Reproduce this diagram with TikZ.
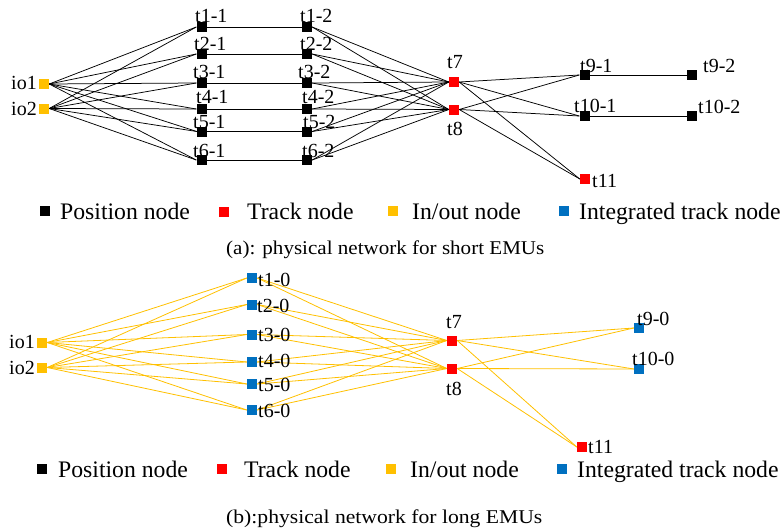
\documentclass[tikz,border=0pt]{standalone}
\usepackage{fontspec}
\setmainfont{Liberation Serif}
\usetikzlibrary{backgrounds}
\definecolor{iocol}{HTML}{FFC000}
\definecolor{intcol}{HTML}{0070C0}
\definecolor{trkcol}{HTML}{FF0000}
\tikzset{
  sq/.style={rectangle, inner sep=0pt, minimum size=10pt},
  posn/.style={sq, fill=black},
  trkn/.style={sq, fill=trkcol},
  ion/.style={sq, fill=iocol},
  intn/.style={sq, fill=intcol},
  lab/.style={inner sep=0pt, font=\fontsize{20}{24}\selectfont},
  legtxt/.style={inner sep=0pt, font=\fontsize{23.7}{28}\selectfont, anchor=base west},
  captxt/.style={inner sep=0pt, font=\fontsize{19.5}{23}\selectfont, anchor=base west},
  edgea/.style={black, line width=0.75pt},
  edgeb/.style={iocol, line width=0.8pt},
}
\begin{document}
\begin{tikzpicture}[x=1pt, y=-1pt]
\useasboundingbox (0,0) rectangle (782,530);

% ---------------- (a) short EMUs ----------------
\node[ion] (io1a) at (44,84) {};
\node[ion] (io2a) at (44,108.5) {};
\node[posn] (s11) at (201.5,27) {};
\node[posn] (s21) at (201.5,54) {};
\node[posn] (s31) at (201.5,83) {};
\node[posn] (s41) at (201.5,109) {};
\node[posn] (s51) at (202,131.5) {};
\node[posn] (s61) at (201.5,160) {};
\node[posn] (s12) at (307,27) {};
\node[posn] (s22) at (307,54) {};
\node[posn] (s32) at (307,83) {};
\node[posn] (s42) at (307,109) {};
\node[posn] (s52) at (307,131.5) {};
\node[posn] (s62) at (307,160) {};
\node[trkn] (t7a) at (454,82) {};
\node[trkn] (t8a) at (454,109.5) {};
\node[posn] (t91) at (584.5,75) {};
\node[posn] (t101) at (584.5,116) {};
\node[posn] (t92) at (692,75) {};
\node[posn] (t102) at (692,116) {};
\node[trkn] (t11a) at (585,179) {};

\node[lab, anchor=base east] (lio1a) at (37,89.5) {io1};
\node[lab, anchor=base east] (lio2a) at (37,115) {io2};
\node[lab, anchor=base west] (ls11) at (195,23) {t1-1};
\node[lab, anchor=base west] (ls21) at (194,50) {t2-1};
\node[lab, anchor=base west] (ls31) at (193,78) {t3-1};
\node[lab, anchor=base west] (ls41) at (196,103) {t4-1};
\node[lab, anchor=base west] (ls51) at (193,128) {t5-1};
\node[lab, anchor=base west] (ls61) at (193,157) {t6-1};
\node[lab, anchor=base west] (ls12) at (300,23) {t1-2};
\node[lab, anchor=base west] (ls22) at (300,50) {t2-2};
\node[lab, anchor=base west] (ls32) at (298,78) {t3-2};
\node[lab, anchor=base west] (ls42) at (302,103) {t4-2};
\node[lab, anchor=base west] (ls52) at (303,128) {t5-2};
\node[lab, anchor=base west] (ls62) at (302,157) {t6-2};
\node[lab, anchor=base] (lt7a) at (455,68) {t7};
\node[lab, anchor=base] (lt8a) at (455,135) {t8};
\node[lab, anchor=base west] (lt91) at (580,72) {t9-1};
\node[lab, anchor=base west] (lt101) at (574,112) {t10-1};
\node[lab, anchor=base west] (lt92) at (703,72) {t9-2};
\node[lab, anchor=base west] (lt102) at (698,113) {t10-2};
\node[lab, anchor=base west] (lt11a) at (592,187) {t11};

\begin{scope}[on background layer]
\foreach \i in {1,...,6}{
  \draw[edgea] (io1a.east) -- (s\i1.west);
  \draw[edgea] (io2a.east) -- (s\i1.west);
  \draw[edgea] (s\i1.east) -- (s\i2.west);
  \draw[edgea] (s\i2.east) -- (t7a.west);
  \draw[edgea] (s\i2.east) -- (t8a.west);
}
\foreach \s in {t7a,t8a}{
  \draw[edgea] (\s.east) -- (t91.west);
  \draw[edgea] (\s.east) -- (t101.west);
  \draw[edgea] (\s.east) -- (t11a.west);
}
\draw[edgea] (t91.east) -- (t92.west);
\draw[edgea] (t101.east) -- (t102.west);
\end{scope}

% legend (a)
\node[posn] (lga1) at (44.5,211) {};
\node[legtxt] (lgta1) at (60,219) {Position node};
\node[trkn] (lga2) at (224,212) {};
\node[legtxt] (lgta2) at (247,219) {Track node};
\node[ion] (lga3) at (393,211) {};
\node[legtxt] (lgta3) at (412,219) {In/out node};
\node[intn] (lga4) at (564,211) {};
\node[legtxt] (lgta4) at (579,219) {Integrated track node};
\node[captxt] (capa) at (226,254) {\scalebox{1.08}[1]{(a): physical network for short EMUs}};

% ---------------- (b) long EMUs ----------------
\node[ion] (io1b) at (42,342.5) {};
\node[ion] (io2b) at (42,367.5) {};
\node[intn] (c1) at (252,278) {};
\node[intn] (c2) at (252,304.5) {};
\node[intn] (c3) at (252,334.5) {};
\node[intn] (c4) at (252,362) {};
\node[intn] (c5) at (252,384) {};
\node[intn] (c6) at (252,410) {};
\node[trkn] (t7b) at (452,340.5) {};
\node[trkn] (t8b) at (452,368.5) {};
\node[intn] (t9b) at (639,328) {};
\node[intn] (t10b) at (639,369) {};
\node[trkn] (t11b) at (582,447) {};

\node[lab, anchor=base east] (lio1b) at (35,348.5) {io1};
\node[lab, anchor=base east] (lio2b) at (35,374) {io2};
\node[lab, anchor=base west] (lc1) at (258,286) {t1-0};
\node[lab, anchor=base west] (lc2) at (257,312) {t2-0};
\node[lab, anchor=base west] (lc3) at (258,341) {t3-0};
\node[lab, anchor=base west] (lc4) at (258,367) {t4-0};
\node[lab, anchor=base west] (lc5) at (258,391) {t5-0};
\node[lab, anchor=base west] (lc6) at (258,417) {t6-0};
\node[lab, anchor=base] (lt7b) at (454,328) {t7};
\node[lab, anchor=base] (lt8b) at (454,395) {t8};
\node[lab, anchor=base west] (lt9b) at (637,325) {t9-0};
\node[lab, anchor=base west] (lt10b) at (632,365) {t10-0};
\node[lab, anchor=base west] (lt11b) at (588,453) {t11};

\begin{scope}[on background layer]
\foreach \i in {1,...,6}{
  \draw[edgeb] (io1b.east) -- (c\i.west);
  \draw[edgeb] (io2b.east) -- (c\i.west);
  \draw[edgeb] (c\i.east) -- (t7b.west);
  \draw[edgeb] (c\i.east) -- (t8b.west);
}
\foreach \s in {t7b,t8b}{
  \draw[edgeb] (\s.east) -- (t9b.west);
  \draw[edgeb] (\s.east) -- (t10b.west);
  \draw[edgeb] (\s.east) -- (t11b.west);
}
\end{scope}

% legend (b)
\node[posn] (lgb1) at (42,469) {};
\node[legtxt] (lgtb1) at (58,477) {Position node};
\node[trkn] (lgb2) at (221.5,469) {};
\node[legtxt] (lgtb2) at (244,477) {Track node};
\node[ion] (lgb3) at (391,469) {};
\node[legtxt] (lgtb3) at (410,477) {In/out node};
\node[intn] (lgb4) at (562,469) {};
\node[legtxt] (lgtb4) at (577,477) {Integrated track node};
\node[captxt] (capb) at (226,523) {\scalebox{1.11}[1]{(b):physical network for long EMUs}};
\end{tikzpicture}
\end{document}
